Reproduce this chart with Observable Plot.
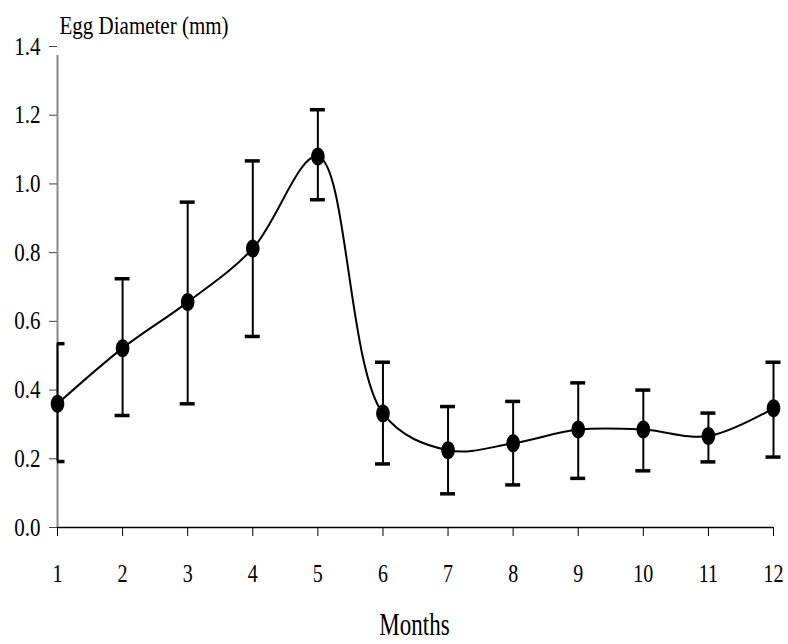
<!DOCTYPE html>
<html><head><meta charset="utf-8">
<script src="https://cdn.jsdelivr.net/npm/d3@7"></script>
<script src="https://cdn.jsdelivr.net/npm/@observablehq/plot@0.6"></script>
<style>
body{margin:0;background:#fff}
#chart svg text{font-family:"Liberation Serif","Times New Roman",serif}
</style></head><body><div id="chart"></div>
<script>
const months = [1,2,3,4,5,6,7,8,9,10,11,12];
const meanDiameter = [0.36,0.522,0.656,0.812,1.08,0.332,0.225,0.245,0.285,0.285,0.266,0.347];
const upperBar = [0.535,0.724,0.947,1.067,1.216,0.481,0.352,0.367,0.421,0.400,0.333,0.481];
const lowerBar = [0.192,0.326,0.360,0.556,0.954,0.185,0.098,0.124,0.143,0.165,0.191,0.205];
const yTicks = [0,0.2,0.4,0.6,0.8,1.0,1.2,1.4];
const xTicks = months;
const yTitle = "Egg Diameter (mm)";
const xTitle = "Months";

const data = months.map((m,i)=>({month:m, mean:meanDiameter[i], hi:upperBar[i], lo:lowerBar[i]}));

const ellipse = {draw(ctx){
  const rx=6.8, ry=9, k=0.5523;
  ctx.moveTo(rx,0);
  ctx.bezierCurveTo(rx, ry*k, rx*k, ry, 0, ry);
  ctx.bezierCurveTo(-rx*k, ry, -rx, ry*k, -rx, 0);
  ctx.bezierCurveTo(-rx, -ry*k, -rx*k, -ry, 0, -ry);
  ctx.bezierCurveTo(rx*k, -ry, rx, -ry*k, rx, 0);
  ctx.closePath();
}};

const capHalf = 0.115;

const chart = Plot.plot({
  width: 788, height: 644,
  marginLeft: 57, marginRight: 15, marginTop: 46, marginBottom: 117,
  x: {domain: [1,12]},
  y: {domain: [0,1.4]},
  marks: [
    Plot.axisY({ticks: yTicks, tickFormat: d3.format(".1f"), tickSize: 8, tickPadding: 9, stroke: "#444", color: "#000", label: null}),
    Plot.axisX({ticks: xTicks, tickFormat: d3.format("d"), tickSize: 9, tickPadding: 29, stroke: "#000", color: "#000", label: null}),
    Plot.ruleY([0], {stroke: "#000", strokeWidth: 1.5}),
    Plot.ruleX([1], {y1: 0, y2: 1.4, stroke: "#888", strokeWidth: 2, insetBottom: -9}),
    Plot.ruleX(data, {x: "month", y1: "lo", y2: "hi", stroke: "#000", strokeWidth: 2}),
    Plot.ruleY(data, {y: "hi", x1: d => Math.max(1, d.month - capHalf), x2: d => d.month + capHalf, stroke: "#000", strokeWidth: 3.5}),
    Plot.ruleY(data, {y: "lo", x1: d => Math.max(1, d.month - capHalf), x2: d => d.month + capHalf, stroke: "#000", strokeWidth: 3.5}),
    Plot.line(data, {x: "month", y: "mean", curve: "catmull-rom", stroke: "#000", strokeWidth: 2}),
    Plot.dot(data, {x: "month", y: "mean", symbol: ellipse, fill: "#000", stroke: "none"}),
    Plot.text([yTitle], {frameAnchor: "top-left", text: d => d, textAnchor: "start", lineAnchor: "bottom", dx: 2, dy: -14, fontSize: 21, fill: "#000"}),
    Plot.text([xTitle], {frameAnchor: "bottom", text: d => d, lineAnchor: "middle", dx: -1, dy: 98, fontSize: 23, fill: "#000"})
  ]
});
document.getElementById("chart").appendChild(chart);
// font sizes of tick labels, then stretch every text vertically about its centre
Array.from(chart.querySelectorAll("text")).forEach(el => {
  const grp = el.closest("g[aria-label]");
  const role = grp ? grp.getAttribute("aria-label") : "";
  let s = 1.2;
  if (role === "y-axis tick label") { el.style.fontSize = "21px"; s = 1.2; }
  else if (role === "x-axis tick label") { el.style.fontSize = "20px"; s = 1.3; }
  else if (parseFloat(getComputedStyle(el).fontSize) >= 23) s = 1.35;
  const g = document.createElementNS("http://www.w3.org/2000/svg", "g");
  el.parentNode.insertBefore(g, el);
  g.appendChild(el);
  const b = g.getBBox();
  const cy = b.y + b.height / 2;
  g.setAttribute("transform", `translate(0,${cy}) scale(1,${s}) translate(0,${-cy})`);
});
</script></body></html>
